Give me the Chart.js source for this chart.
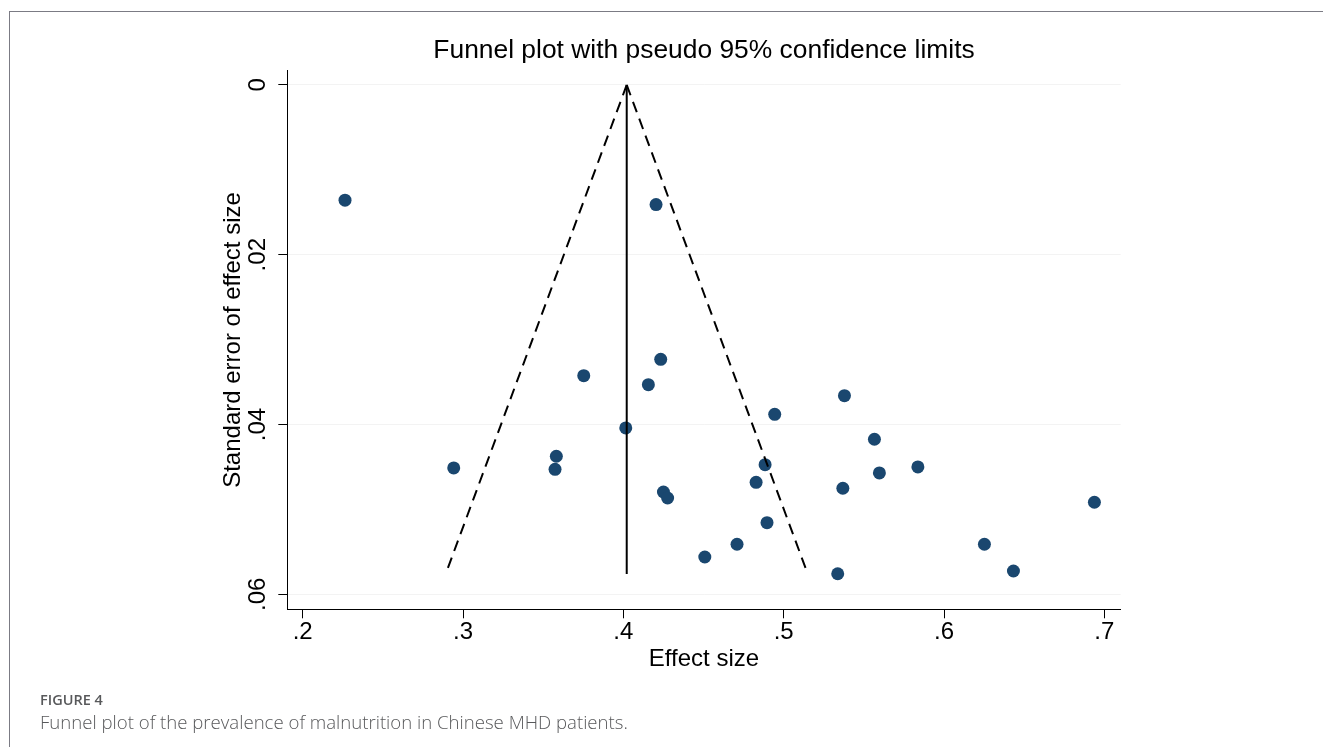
<!DOCTYPE html>
<html>
<head>
<meta charset="utf-8">
<script src="https://cdn.jsdelivr.net/npm/chart.js@4.4.1/dist/chart.umd.min.js"></script>
<style>
  html, body { margin: 0; padding: 0; background: #ffffff; }
  body { width: 1323px; height: 747px; position: relative; overflow: hidden; }
  #frame { position: absolute; left: 9px; top: 11px; right: 0; bottom: 0;
           border-top: 1.5px solid #7b7b84; border-left: 1.5px solid #7b7b84; }
  #c { position: absolute; left: 0; top: 0; }
  .cap1 { position: absolute; left: 40px; top: 693px; font-family: 'Open Sans', sans-serif;
          font-size: 14.5px; line-height: 1; color: #58595b; font-weight: 600; }
  .cap2 { position: absolute; left: 40px; top: 713px; font-family: 'Open Sans', sans-serif;
          font-size: 18.6px; line-height: 1; color: #58595b; font-weight: 300; }
</style>
</head>
<body>
<div id="frame"></div>
<canvas id="c" width="1323" height="747"></canvas>
<div class="cap1">FIGURE 4</div>
<div class="cap2">Funnel plot of the prevalence of malnutrition in Chinese MHD patients.</div>
<script>
// ---- data ----
const chartTitle = "Funnel plot with pseudo 95% confidence limits";
const xAxisTitle = "Effect size";
const yAxisTitle = "Standard error of effect size";

// study effect sizes (x) and standard errors (y)
const studyES = [0.2264, 0.4204, 0.4233, 0.3753, 0.4156, 0.5379, 0.4944, 0.4015, 0.5566,
                 0.3582, 0.2942, 0.3574, 0.4884, 0.5837, 0.5597, 0.4828, 0.5369, 0.4250,
                 0.4276, 0.6938, 0.4896, 0.4709, 0.6252, 0.4508, 0.6433, 0.5337];
const studySE = [0.01358, 0.01410, 0.03232, 0.03425, 0.03531, 0.03660, 0.03880, 0.04041, 0.04174,
                 0.04374, 0.04512, 0.04528, 0.04473, 0.04500, 0.04571, 0.04681, 0.04751, 0.04795,
                 0.04866, 0.04916, 0.05157, 0.05411, 0.05411, 0.05561, 0.05726, 0.05758];

// pseudo 95% confidence limit lines (endpoints)
const funnelSE    = [0, 0.0576];
const funnelLower = [0.4021, 0.2892];
const funnelUpper = [0.4021, 0.5150];
const pooledES    = [0.4021, 0.4021];

// axes
const xTickValues = [0.2, 0.3, 0.4, 0.5, 0.6, 0.7];
const xTickLabels = [".2", ".3", ".4", ".5", ".6", ".7"];
const yTickValues = [0, 0.02, 0.04, 0.06];
const yTickLabels = ["0", ".02", ".04", ".06"];
const xRange = [0.1904, 0.7102];
const yRange = [-0.00168, 0.06177];

// ---- build ----
const pts = (xs, ys) => xs.map((x, i) => ({ x: x, y: ys[i] }));
Chart.defaults.font.family = "'Liberation Sans', Arial, sans-serif";
Chart.defaults.color = '#000000';

// centre the title over the plot region (as Stata does)
const centreTitle = {
  id: 'centreTitle',
  afterLayout(chart) {
    if (chart.titleBlock) {
      chart.titleBlock.left = chart.chartArea.left;
      chart.titleBlock.right = chart.chartArea.right;
    }
  }
};

new Chart(document.getElementById('c'), {
  type: 'scatter',
  plugins: [centreTitle],
  data: {
    datasets: [
      { label: 'lower', data: pts(funnelLower, funnelSE), showLine: true, borderColor: '#000000',
        borderWidth: 2, borderDash: [11, 7], pointRadius: 0, fill: false, order: 1 },
      { label: 'upper', data: pts(funnelUpper, funnelSE), showLine: true, borderColor: '#000000',
        borderWidth: 2, borderDash: [11, 7], pointRadius: 0, fill: false, order: 1 },
      { label: 'pooled', data: pts(pooledES, funnelSE), showLine: true, borderColor: '#000000',
        borderWidth: 2, pointRadius: 0, fill: false, order: 1 },
      { label: 'studies', data: pts(studyES, studySE), backgroundColor: '#1a476f',
        borderColor: '#1a476f', borderWidth: 0, pointRadius: 6.5, pointHoverRadius: 6.5, order: 2 }
    ]
  },
  options: {
    responsive: false,
    animation: false,
    devicePixelRatio: 1,
    layout: { padding: { left: 0, top: 35.4, right: 202.3, bottom: 0 } },
    plugins: {
      legend: { display: false },
      tooltip: { enabled: false },
      title: { display: true, text: chartTitle, color: '#000000',
               font: { size: 26.4, weight: 'normal', lineHeight: 1.15 }, padding: { top: 0, bottom: 4.9 } }
    },
    scales: {
      x: {
        type: 'linear', min: xRange[0], max: xRange[1],
        afterFit: s => { s.height = 137.7; },
        afterBuildTicks: s => { s.ticks = xTickValues.map(v => ({ value: v })); },
        grid: { drawOnChartArea: false, tickLength: 9, tickColor: '#000000', tickWidth: 1 },
        border: { display: true, color: '#000000', width: 1 },
        ticks: { callback: (v, i) => xTickLabels[i], font: { size: 24 }, color: '#000000',
                 padding: 0, maxRotation: 0, autoSkip: false },
        title: { display: true, text: xAxisTitle, font: { size: 24 }, color: '#000000',
                 padding: { top: 0, bottom: 72.9 } }
      },
      y: {
        type: 'linear', reverse: true, min: yRange[0], max: yRange[1],
        afterFit: s => { s.width = 287.3; },
        afterBuildTicks: s => { s.ticks = yTickValues.map(v => ({ value: v })); },
        grid: { drawOnChartArea: true, color: '#f3f3f3', tickLength: 9, tickColor: '#000000', tickWidth: 1 },
        border: { display: true, color: '#000000', width: 1 },
        ticks: { callback: (v, i) => yTickLabels[i], font: { size: 24 }, color: '#000000',
                 padding: 3.6, minRotation: 90, maxRotation: 90, crossAlign: 'center', autoSkip: false },
        title: { display: true, text: yAxisTitle, font: { size: 24 }, color: '#000000',
                 padding: { top: 218.6, bottom: 0 } }
      }
    }
  }
});
</script>
</body>
</html>
